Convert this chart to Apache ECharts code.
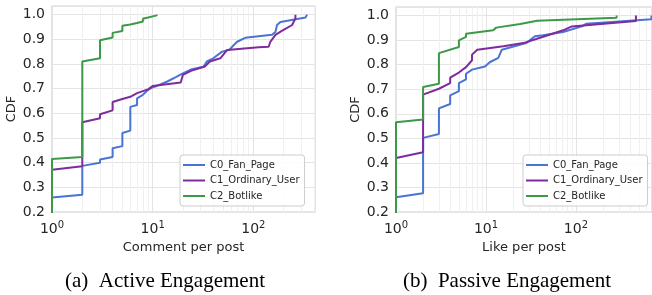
<!DOCTYPE html>
<html><head><meta charset="utf-8">
<script src="https://cdn.jsdelivr.net/npm/echarts@6/dist/echarts.min.js"></script>
<style>html,body{margin:0;padding:0;background:#fff}#c{width:652px;height:295px}</style>
</head><body><div id="c"></div>
<script>
const seriesNames = ['C0_Fan_Page', 'C1_Ordinary_User', 'C2_Botlike'];
const panelTitles = ['(a)  Active Engagement', '(b)  Passive Engagement'];
const xAxisNames = ['Comment per post', 'Like per post'];
const yTicks = [0.2, 0.3, 0.4, 0.5, 0.6, 0.7, 0.8, 0.9, 1.0];
const minorTicksA = [2,3,4,5,6,7,8,9,20,30,40,50,60,70,80,90,200,300,400];
const minorTicksB = [2,3,4,5,6,7,8,9,20,30,40,50,60,70,80,90,200,300,400,500,600];

// (a) Active engagement: comments per post
const activeC0 = [[1,0],[1,0.259],[2,0.27],[2,0.387],[3,0.400],[3,0.413],[4,0.423],[4,0.458],[5,0.467],[5,0.52],[6,0.53],[6,0.626],[7,0.634],[7,0.661],[8,0.675],[9,0.695],[10,0.705],[11,0.711],[14,0.729],[17,0.747],[19.5,0.76],[24.5,0.779],[32,0.789],[34.5,0.81],[40,0.823],[49,0.85],[58,0.858],[64,0.877],[69,0.89],[83,0.906],[153,0.918],[166,0.93],[172,0.958],[186,0.97],[330,0.988],[342,0.995],[342,1.0]];
const activeC1 = [[1,0],[1,0.371],[2,0.385],[2,0.564],[3,0.58],[3,0.596],[4,0.612],[4,0.646],[5,0.658],[6,0.667],[7,0.682],[8,0.69],[9,0.697],[10,0.711],[19,0.725],[20,0.756],[24,0.772],[33,0.79],[37,0.81],[47,0.823],[55,0.857],[113,0.868],[142,0.870],[148,0.891],[166,0.918],[190,0.933],[243,0.958],[262,0.985],[262,1.0]];
const activeC2 = [[1,0],[1,0.415],[2,0.423],[2,0.81],[3,0.823],[3,0.896],[4,0.907],[4,0.926],[5,0.934],[5,0.955],[6,0.96],[7,0.966],[8,0.972],[8,0.983],[11,0.997],[11,1.0]];

// (b) Passive engagement: likes per post
const passiveC0 = [[1,0],[1,0.26],[2,0.276],[2,0.502],[3,0.518],[3,0.622],[4,0.64],[4,0.675],[5,0.692],[5,0.725],[6,0.74],[6,0.763],[7,0.78],[9.75,0.793],[11,0.81],[13.7,0.828],[15,0.861],[28,0.888],[35,0.916],[43,0.92],[72,0.933],[116,0.956],[131,0.967],[690,0.985],[690,1.0]];
const passiveC1 = [[1,0],[1,0.42],[2,0.443],[2,0.678],[3,0.702],[4,0.725],[4,0.747],[5,0.768],[6,0.79],[7,0.818],[7,0.841],[8,0.861],[15.6,0.875],[26,0.888],[40,0.91],[72,0.94],[90,0.956],[464,0.978],[464,1.0]];
const passiveC2 = [[1,0],[1,0.566],[2,0.577],[2,0.709],[3,0.722],[3,0.847],[5,0.872],[5,0.899],[6,0.913],[6,0.926],[12,0.94],[13,0.951],[24,0.966],[37,0.979],[283,0.991],[283,1.0]];

const colors = ['#4a74d4', '#7e2b9e', '#3a9a48'];
const txt = '#262626';
const font = 'DejaVu Sans';

const grids = [
  {left: 52, top: 6, width: 263, height: 206, xmax: 410, minor: minorTicksA, data: [activeC0, activeC1, activeC2], titleX: 160},
  {left: 396, top: 7, width: 256, height: 205, xmax: 700, minor: minorTicksB, data: [passiveC0, passiveC1, passiveC2], titleX: 502}
];

const option = {
  animation: false,
  backgroundColor: '#fff',
  title: grids.map((g, i) => ({
    text: panelTitles[i], left: g.titleX, top: 266, textAlign: 'center',
    textStyle: {fontFamily: 'Liberation Serif', fontSize: 21, fontWeight: 'normal', color: '#000'}
  })),
  grid: grids.map(g => ({left: g.left, top: g.top, width: g.width, height: g.height, show: true,
    borderColor: '#cfcfcf', borderWidth: 1.2, backgroundColor: '#fff'})),
  xAxis: grids.map((g, i) => ({
    type: 'log', logBase: 10, gridIndex: i, min: 1, max: g.xmax,
    name: xAxisNames[i], nameLocation: 'middle', nameGap: 26,
    nameTextStyle: {fontFamily: font, fontSize: 13, color: txt},
    axisLine: {show: false}, axisTick: {show: false},
    splitLine: {show: true, lineStyle: {color: '#e4e4e4', width: 1}},
    axisLabel: {
      margin: 8, showMaxLabel: false,
      formatter: v => {
        const e = Math.log10(v);
        if (Math.abs(e - Math.round(e)) > 1e-6) return '';
        return '{b|10}{s|' + Math.round(e) + '}';
      },
      rich: {
        b: {fontFamily: font, fontSize: 14, color: txt},
        s: {fontFamily: font, fontSize: 10, color: txt, padding: [0, 0, 9, 0]}
      }
    }
  })),
  yAxis: grids.map((g, i) => ({
    type: 'value', gridIndex: i, min: 0.2, max: 1.035, interval: 0.1,
    name: 'CDF', nameLocation: 'middle', nameGap: 34,
    nameTextStyle: {fontFamily: font, fontSize: 13, color: txt},
    axisLine: {show: false}, axisTick: {show: false},
    splitLine: {show: true, lineStyle: {color: '#e4e4e4', width: 1}},
    axisLabel: {
      margin: 7, showMaxLabel: false, fontFamily: font, fontSize: 14, color: txt,
      formatter: v => yTicks.some(t => Math.abs(t - v) < 1e-6) ? v.toFixed(1) : ''
    }
  })),
  legend: grids.map((g, i) => ({
    data: seriesNames, orient: 'vertical',
    left: i === 0 ? 180 : 523, top: 155,
    icon: 'rect', itemWidth: 22, itemHeight: 2, itemGap: 3.5,
    textStyle: {fontFamily: font, fontSize: 10, color: txt, lineHeight: 12},
    padding: [4, 5, 4, 3], borderColor: '#cccccc', borderWidth: 1, borderRadius: 3,
    backgroundColor: 'rgba(255,255,255,0.85)', z: 10
  })),
  series: []
};

grids.forEach((g, i) => {
  option.series.push({
    type: 'line', xAxisIndex: i, yAxisIndex: i, data: [], z: 1, silent: true,
    markLine: {silent: true, z: 1, symbol: 'none', label: {show: false}, animation: false,
      lineStyle: {color: '#f0f0f0', width: 1, type: 'solid'},
      data: g.minor.map(v => ({xAxis: v}))}
  });
  g.data.forEach((d, k) => {
    option.series.push({
      name: seriesNames[k], type: 'line', xAxisIndex: i, yAxisIndex: i, data: d,
      showSymbol: false, symbol: 'none', z: 3 + k,
      lineStyle: {color: colors[k], width: 2}, itemStyle: {color: colors[k]}
    });
  });
});

const chart = echarts.init(document.getElementById('c'), null, {renderer: 'canvas'});
chart.setOption(option);
</script>
</body></html>
